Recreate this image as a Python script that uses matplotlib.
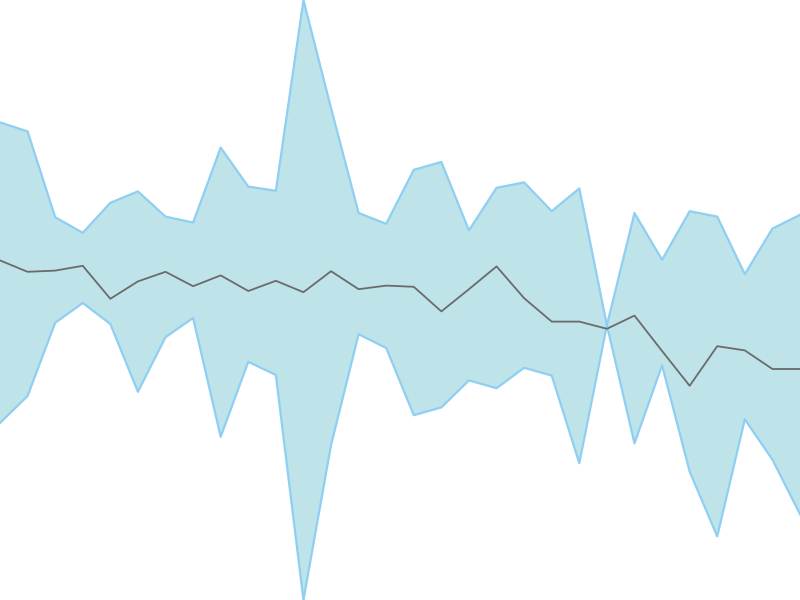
import numpy as np
import matplotlib
matplotlib.use('Agg')
import matplotlib.pyplot as plt

steps = list(range(30))
upper = [79.6, 78.1, 63.8, 61.2, 66.2, 68.1, 63.9, 62.9, 75.4, 68.9,
         68.2, 100.0, 82.0, 64.5, 62.7, 71.7, 73.0, 61.6, 68.7, 69.6,
         64.8, 68.6, 45.8, 64.5, 56.7, 64.8, 63.9, 54.3, 61.9, 64.2]
middle = [56.6, 54.7, 54.9, 55.7, 50.2, 53.1, 54.7, 52.3, 54.1, 51.5,
          53.2, 51.3, 54.8, 51.8, 52.4, 52.2, 48.1, 51.8, 55.6, 50.3,
          46.4, 46.4, 45.2, 47.4, 41.5, 35.7, 42.3, 41.6, 38.5, 38.5]
lower = [29.5, 34.0, 46.2, 49.5, 46.0, 34.7, 43.8, 47.0, 27.2, 39.7,
         37.5, 0.0, 25.8, 44.3, 42.0, 30.8, 32.1, 36.6, 35.3, 38.7,
         37.4, 22.8, 45.8, 26.1, 39.1, 21.4, 10.6, 30.1, 23.4, 14.3]

fig = plt.figure(figsize=(8, 6), dpi=100)
ax = fig.add_axes([0, 0, 1, 1])

ax.fill_between(steps, lower, upper, color='#bee3e8', linewidth=0)
ax.plot(steps, upper, color='#8ecff3', linewidth=1.6)
ax.plot(steps, lower, color='#8ecff3', linewidth=1.6)
ax.plot(steps, middle, color='#6b6b6b', linewidth=1.3)

ax.set_xlim(0, 29)
ax.set_ylim(0, 100)
ax.axis('off')

fig.savefig('out.png', dpi=100)
